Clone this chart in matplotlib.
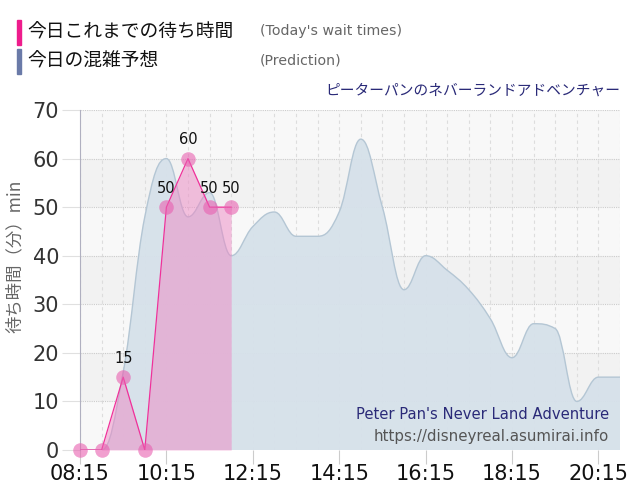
import matplotlib
matplotlib.use("Agg")
import matplotlib.pyplot as plt
from matplotlib.path import Path
from matplotlib.patches import PathPatch
import numpy as np

plt.rcParams['font.family'] = ['Noto Sans CJK JP', 'DejaVu Sans']

# times in minutes since midnight
actual_times = ["08:15", "08:45", "09:15", "09:45", "10:15", "10:45", "11:15", "11:45"]
actual_waits = [0, 0, 15, 0, 50, 60, 50, 50]

pred_times = ["08:15", "08:45", "09:15", "09:45", "10:15", "10:45", "11:15", "11:45",
              "12:15", "12:45", "13:15", "13:45", "14:15", "14:45", "15:15", "15:45",
              "16:15", "16:45", "17:15", "17:45", "18:15", "18:45", "19:15", "19:45",
              "20:15", "20:45"]
pred_waits = [0, 0, 16, 48, 60, 48, 53, 40,
              46, 49, 44, 44, 49, 64, 50, 33,
              40, 37, 33, 27, 19, 26, 25, 10,
              15, 15]

tick_labels = ["08:15", "10:15", "12:15", "14:15", "16:15", "18:15", "20:15"]


def to_min(t):
    h, m = t.split(":")
    return int(h) * 60 + int(m)


ax_x = np.array([to_min(t) for t in actual_times])
ax_y = np.array(actual_waits)
px = np.array([to_min(t) for t in pred_times])
py = np.array(pred_waits, dtype=float)


def spline_path(xs, ys):
    # highcharts-like smooth curve through the points
    verts = [(xs[0], ys[0])]
    codes = [Path.MOVETO]
    n = len(xs)
    ctrl = []
    for i in range(n):
        if i == 0 or i == n - 1:
            ctrl.append(((xs[i], ys[i]), (xs[i], ys[i])))
            continue
        lx = (1.5 * xs[i] + xs[i - 1]) / 2.5
        ly = (1.5 * ys[i] + ys[i - 1]) / 2.5
        rx = (1.5 * xs[i] + xs[i + 1]) / 2.5
        ry = (1.5 * ys[i] + ys[i + 1]) / 2.5
        corr = (ry - ly) * (rx - xs[i]) / (rx - lx) + ys[i] - ry
        ly += corr
        ry += corr
        if ly > max(ys[i - 1], ys[i]):
            ly = max(ys[i - 1], ys[i]); ry = 2 * ys[i] - ly
        elif ly < min(ys[i - 1], ys[i]):
            ly = min(ys[i - 1], ys[i]); ry = 2 * ys[i] - ly
        if ry > max(ys[i + 1], ys[i]):
            ry = max(ys[i + 1], ys[i]); ly = 2 * ys[i] - ry
        elif ry < min(ys[i + 1], ys[i]):
            ry = min(ys[i + 1], ys[i]); ly = 2 * ys[i] - ry
        ctrl.append(((lx, ly), (rx, ry)))
    for i in range(1, n):
        verts += [ctrl[i - 1][1], ctrl[i][0], (xs[i], ys[i])]
        codes += [Path.CURVE4] * 3
    return verts, codes


fig = plt.figure(figsize=(6.4, 5.0), dpi=100)
ax = fig.add_axes([0.125, 0.1, 0.84375, 0.68])

x0, x1 = to_min("08:15"), to_min("20:45")
ax.set_xlim(x0, x1)
ax.set_ylim(0, 70)

# background bands
ax.set_facecolor("#f8f8f8")
for b in [10, 30, 50]:
    ax.axhspan(b, b + 10, color="#f2f2f2", zorder=0, lw=0)

# grid
for t in range(x0, x1 + 1, 30):
    ax.axvline(t, color="#dddddd", lw=0.8, ls=(0, (3, 3)), zorder=1)
for v in range(10, 71, 10):
    ax.axhline(v, color="#cccccc", lw=0.8, ls=(0, (1, 1)), zorder=1)

# prediction area
verts, codes = spline_path(px, py)
line_path = Path(verts, codes)
fill_verts = verts + [(px[-1], 0), (px[0], 0), (px[0], py[0])]
fill_codes = codes + [Path.LINETO, Path.LINETO, Path.CLOSEPOLY]
ax.add_patch(PathPatch(Path(fill_verts, fill_codes), facecolor="#d6e1ea", edgecolor="none",
                       alpha=0.95, zorder=2))
ax.add_patch(PathPatch(line_path, facecolor="none", edgecolor="#b4c6d4", lw=1, zorder=3))

# actual wait times
ax.fill_between(ax_x, ax_y, 0, color="#ee88c4", alpha=0.5, lw=0, zorder=4)
ax.plot(ax_x, ax_y, color="#f0309a", lw=0.9, zorder=5)
ax.scatter(ax_x, ax_y, s=110, color="#e860b0", alpha=0.6, lw=0, zorder=6, clip_on=False)
for xv, yv in zip(ax_x, ax_y):
    if yv > 0:
        ax.text(xv, yv + 2.3, str(yv), ha="center", va="bottom", fontsize=10.5,
                color="#111111", zorder=7, family="DejaVu Sans")

# axes styling
for s in ["top", "right", "bottom"]:
    ax.spines[s].set_visible(False)
ax.spines["left"].set_color("#b0b0c0")
ax.set_xticks([to_min(t) for t in tick_labels])
ax.set_xticklabels(tick_labels, fontsize=15, color="#111111", family="DejaVu Sans")
ax.set_yticks(range(0, 71, 10))
ax.set_yticklabels([str(v) for v in range(0, 71, 10)], fontsize=15, color="#333333",
                   family="DejaVu Sans")
ax.tick_params(axis="x", length=10, color="#cccccc", pad=0)
ax.tick_params(axis="y", length=13, color="#e0e0e0", pad=2)
ax.set_ylabel("待ち時間（分）min", fontsize=12.5, color="#666666")
ax.yaxis.set_label_coords(-0.104, 0.57)

# watermark
ax.text(0.98, 0.103, "Peter Pan's Never Land Adventure", transform=ax.transAxes,
        ha="right", va="center", fontsize=10.6, color="#2a2a78", family="DejaVu Sans", zorder=8)
ax.text(0.98, 0.041, "https://disneyreal.asumirai.info", transform=ax.transAxes,
        ha="right", va="center", fontsize=10.8, color="#555555", family="DejaVu Sans", zorder=8)

# legend / header
fig.patches.append(plt.Rectangle((17 / 640, 1 - 45 / 500), 4 / 640, 25 / 500,
                                 transform=fig.transFigure, color="#ee1c8c"))
fig.patches.append(plt.Rectangle((17 / 640, 1 - 74 / 500), 4 / 640, 25 / 500,
                                 transform=fig.transFigure, color="#6a7aa8"))
fig.text(27 / 640, 1 - 32 / 500, "今日これまでの待ち時間", fontsize=13.5, color="#111111", va="center")
fig.text(27 / 640, 1 - 61 / 500, "今日の混雑予想", fontsize=13.5, color="#111111", va="center")
fig.text(260 / 640, 1 - 31 / 500, "(Today's wait times)", fontsize=10.2, color="#666666",
         va="center", family="DejaVu Sans")
fig.text(260 / 640, 1 - 60 / 500, "(Prediction)", fontsize=10.2, color="#666666",
         va="center", family="DejaVu Sans")
fig.text(620 / 640, 1 - 91 / 500, "ピーターパンのネバーランドアドベンチャー", fontsize=10.6,
         color="#2a2a78", ha="right", va="center")

fig.savefig("out.png", dpi=100)
